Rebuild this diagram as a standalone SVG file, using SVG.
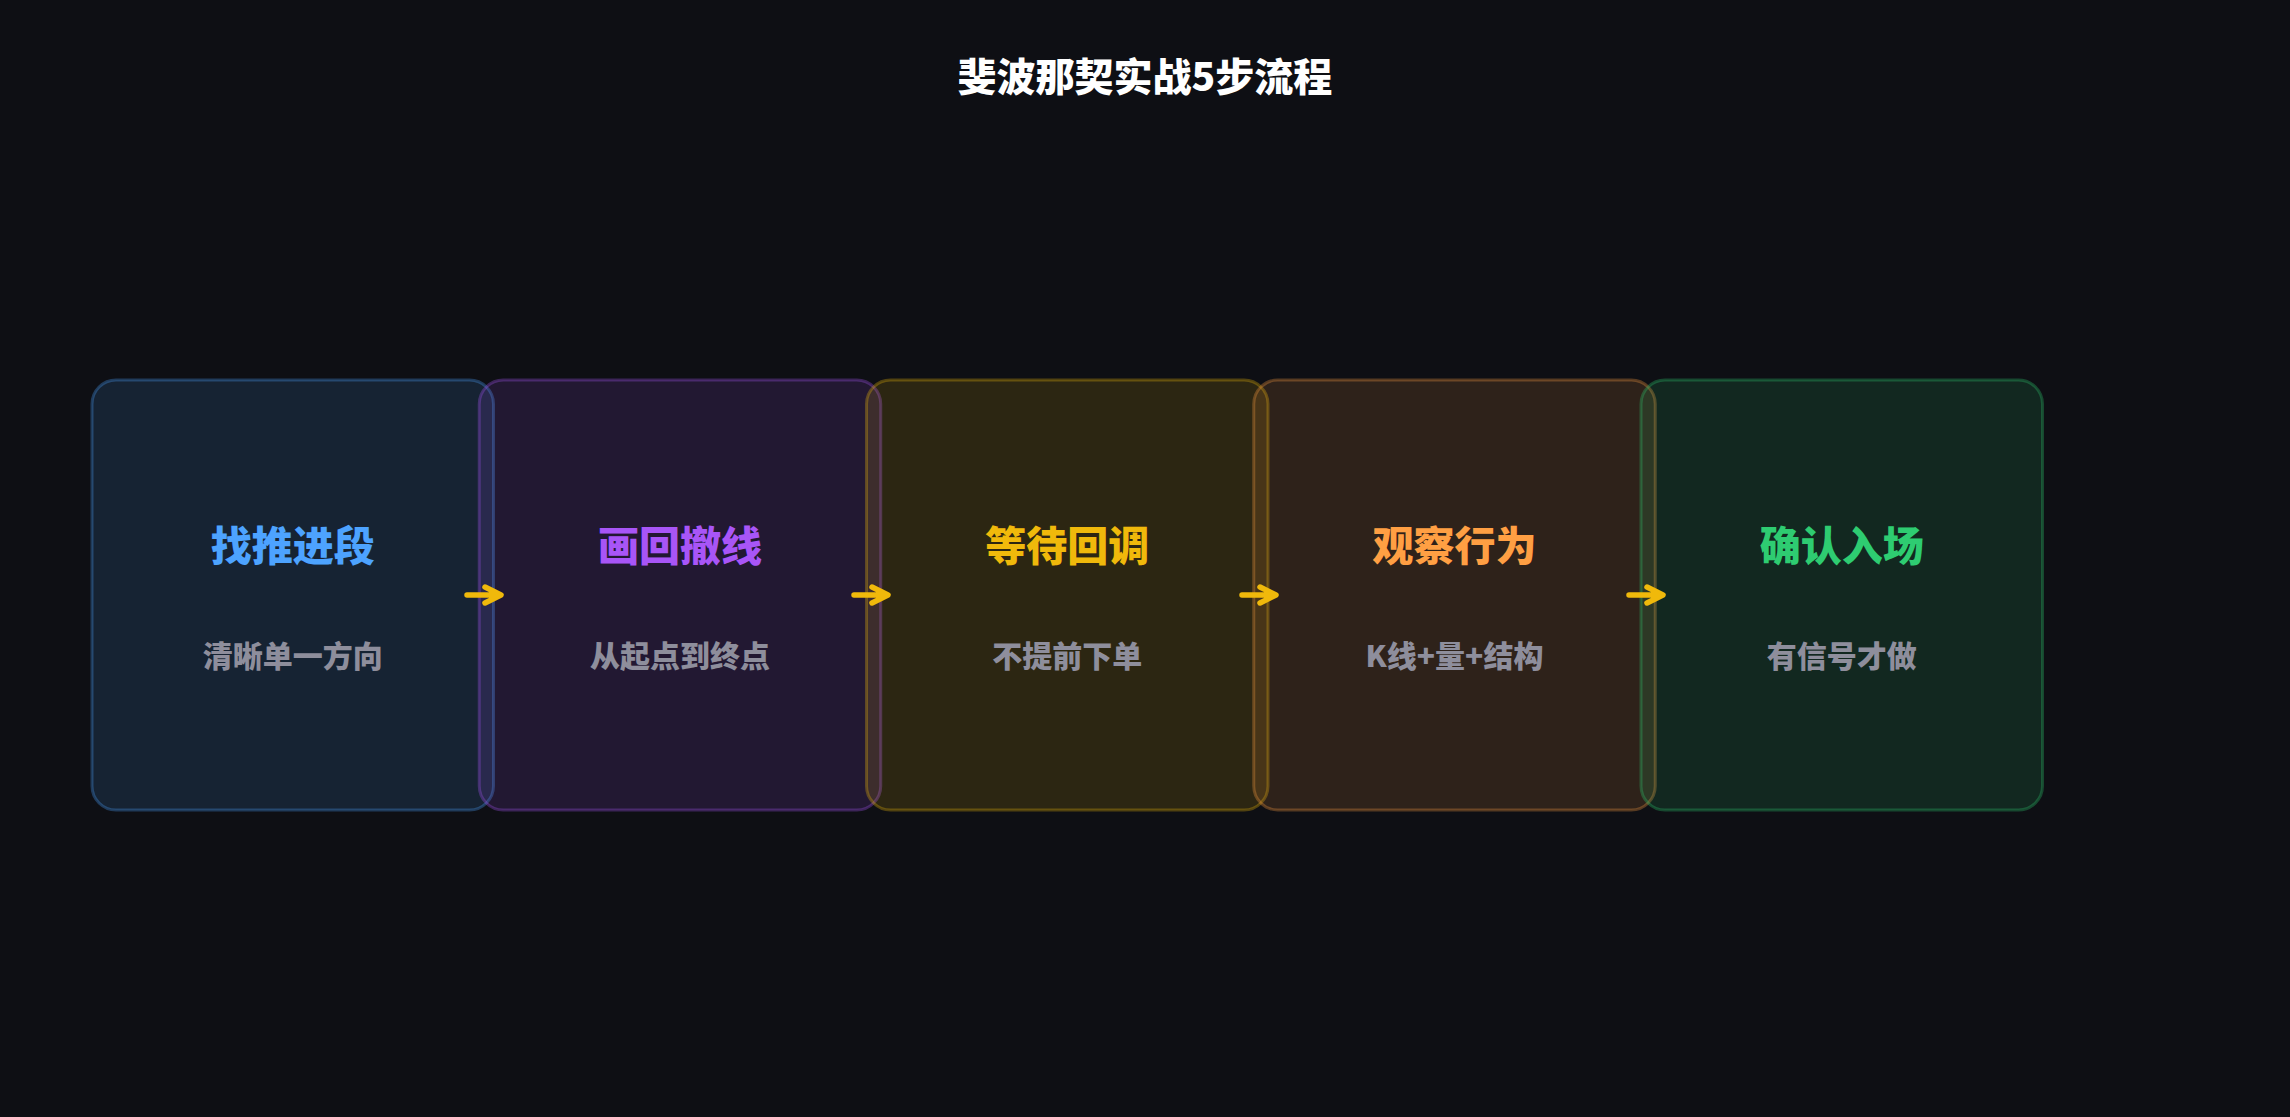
<svg xmlns="http://www.w3.org/2000/svg" width="2290" height="1117" viewBox="0 0 2290 1117">
  <style>
    .bg { fill: #0e0f14; }
    .box { stroke-width: 3; fill-opacity: 0.135; stroke-opacity: 0.3; }
    .t { font-family: "Noto Sans CJK SC", "Noto Sans", sans-serif; font-weight: 900; text-anchor: middle; }
    .title { font-size: 39px; fill: #ffffff; }
    .h { font-size: 41px; }
    .s { font-size: 30px; fill: #8e8e9c; }
    .arr { fill: none; stroke: #f0b90b; stroke-width: 5.5; stroke-linecap: round; stroke-linejoin: round; }
  </style>
  <rect class="bg" x="0" y="0" width="2290" height="1117"/>
  <text class="t title" x="1145" y="91">斐波那契实战5步流程</text>

  <g id="node-1">
    <rect class="box" x="92" y="380" width="401.5" height="430" rx="24" fill="#4da3ff" stroke="#4da3ff"/>
    <text class="t h" x="292.75" y="561" fill="#4da3ff">找推进段</text>
    <text class="t s" x="292.75" y="667">清晰单一方向</text>
  </g>
  <g id="node-2">
    <rect class="box" x="479.25" y="380" width="401.5" height="430" rx="24" fill="#a855f7" stroke="#a855f7"/>
    <text class="t h" x="680" y="561" fill="#a855f7">画回撤线</text>
    <text class="t s" x="680" y="667">从起点到终点</text>
  </g>
  <g id="node-3">
    <rect class="box" x="866.5" y="380" width="401.5" height="430" rx="24" fill="#f0b90b" stroke="#f0b90b"/>
    <text class="t h" x="1067.25" y="561" fill="#f0b90b">等待回调</text>
    <text class="t s" x="1067.25" y="667">不提前下单</text>
  </g>
  <g id="node-4">
    <rect class="box" x="1253.75" y="380" width="401.5" height="430" rx="24" fill="#ff9f43" stroke="#ff9f43"/>
    <text class="t h" x="1454.5" y="561" fill="#ff9f43">观察行为</text>
    <text class="t s" x="1454.5" y="667">K线+量+结构</text>
  </g>
  <g id="node-5">
    <rect class="box" x="1641" y="380" width="401.5" height="430" rx="24" fill="#2ecc71" stroke="#2ecc71"/>
    <text class="t h" x="1841.75" y="561" fill="#2ecc71">确认入场</text>
    <text class="t s" x="1841.75" y="667">有信号才做</text>
  </g>

  <g id="connectors">
    <path class="arr" d="M467,595 H500 M485,587 L501,595 L485,603"/>
    <path class="arr" d="M854,595 H887 M872,587 L888,595 L872,603"/>
    <path class="arr" d="M1242,595 H1275 M1260,587 L1276,595 L1260,603"/>
    <path class="arr" d="M1629,595 H1662 M1647,587 L1663,595 L1647,603"/>
  </g>
</svg>
